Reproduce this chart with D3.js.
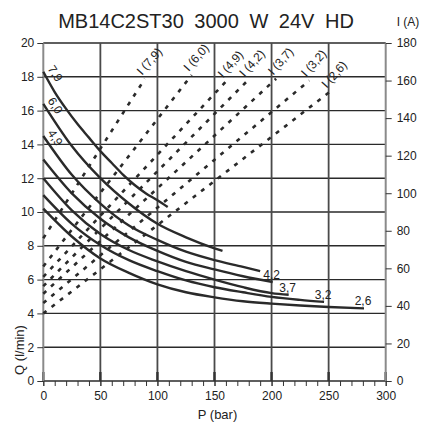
<!DOCTYPE html>
<html><head><meta charset="utf-8">
<script src="https://cdn.jsdelivr.net/npm/d3@7/dist/d3.min.js"></script>
<style>
body{margin:0;background:#fff}
svg{display:block;font-family:"Liberation Sans",Arial,sans-serif}
</style>
</head><body>
<svg id="chart" width="422" height="425"></svg>
<script>
// ---------- data ----------
const titleText = "MB14C2ST30  3000 W 24V HD";
const rightTitle = "I (A)";
const xTitle = "P (bar)";
const yTitle = "Q (l/min)";
const pressureTicks = [0, 50, 100, 150, 200, 250, 300];
const pressureMinor = [0,10,20,30,40,50,60,70,80,90,100,110,120,130,140,150,160,170,180,190,200,210,220,230,240,250,260,270,280,290,300];
const flowTicks = [0, 2, 4, 6, 8, 10, 12, 14, 16, 18, 20];
const currentTicks = [0, 20, 40, 60, 80, 100, 120, 140, 160, 180];

// Q (l/min) vs P (bar) curves, labelled by displacement
const curveNames = ["7,9", "6,0", "4,9", "4,2", "3,7", "3,2", "2,6"];
const flow79 = [[0,18.3],[10,17.1],[20,16.1],[30,15.2],[40,14.4],[50,13.6],[60,12.9],[70,12.2],[80,11.6],[90,11.1],[100,10.7],[109,10.3]];
const flow60 = [[0,16.4],[25,13.9],[50,12.0],[75,10.5],[100,9.3],[125,8.5],[150,7.85],[157,7.7]];
const flow49 = [[0,14.5],[25,12.2],[50,10.5],[75,9.2],[100,8.35],[125,7.65],[150,7.15],[175,6.75],[190,6.5]];
const flow42 = [[0,13.1],[25,11.1],[50,9.6],[75,8.5],[100,7.7],[125,7.05],[150,6.6],[175,6.2],[201,5.86]];
const flow37 = [[0,12.0],[25,10.1],[50,8.7],[75,7.75],[100,7.08],[125,6.5],[150,6.0],[175,5.55],[200,5.2],[215,5.1]];
const flow32 = [[0,11.0],[25,9.3],[50,8.05],[75,7.15],[100,6.5],[125,5.95],[150,5.55],[175,5.25],[200,4.98],[225,4.8],[246,4.68]];
const flow26 = [[0,10.2],[25,8.55],[50,7.25],[75,6.4],[100,5.72],[125,5.25],[150,4.95],[175,4.72],[200,4.58],[225,4.47],[250,4.38],[281,4.3]];

// current lines I (A) vs P (bar)
const currentNames = ["I (7,9)", "I (6,0)", "I (4,9)", "I (4,2)", "I (3,7)", "I (3,2)", "I (2,6)"];
const currentAtZero = [76, 61, 55.5, 50.5, 46.5, 41.5, 36];
const currentEndPressure = [89, 130, 160, 179, 204, 233, 251];
const currentEndValue = [161, 163, 159.5, 160, 161, 160, 154];

// ---------- chart ----------
const curves = [flow79, flow60, flow49, flow42, flow37, flow32, flow26];
const svg = d3.select("#chart");
const x = d3.scaleLinear().domain([0, 300]).range([43.3, 385.7]);
const y = d3.scaleLinear().domain([0, 20]).range([381, 43]);
const yI = d3.scaleLinear().domain([0, 180]).range([381, 43]);

// horizontal grid
svg.append("g").selectAll("line").data(flowTicks).join("line")
  .attr("x1", x(0)).attr("x2", x(300))
  .attr("y1", d => y(d)).attr("y2", d => y(d))
  .attr("stroke", "#2a2a2a").attr("stroke-width", 1.4);

// vertical grid
svg.append("g").selectAll("line").data(pressureTicks.filter(d => d > 0 && d < 300)).join("line")
  .attr("x1", d => x(d)).attr("x2", d => x(d))
  .attr("y1", y(0)).attr("y2", y(20))
  .attr("stroke", "#4a4a4a").attr("stroke-width", 1.8);

// inner major tick stubs at bottom
svg.append("g").selectAll("line").data(pressureTicks).join("line")
  .attr("x1", d => x(d)).attr("x2", d => x(d))
  .attr("y1", y(0)).attr("y2", y(0) - 9)
  .attr("stroke", "#333").attr("stroke-width", 2.4);

// left & right axis lines
svg.append("line").attr("x1", x(0)).attr("x2", x(0)).attr("y1", y(0)).attr("y2", y(20))
  .attr("stroke", "#8a8a8a").attr("stroke-width", 2);
svg.append("line").attr("x1", x(300)).attr("x2", x(300)).attr("y1", y(0)).attr("y2", y(20))
  .attr("stroke", "#8a8a8a").attr("stroke-width", 2);

function styleAxis(g) {
  g.select(".domain").remove();
  g.selectAll(".tick line").attr("stroke", "#333");
  g.selectAll(".tick text").attr("fill", "#222").attr("font-size", 12)
    .attr("font-family", '"Liberation Sans",Arial,sans-serif');
}

svg.append("g").attr("transform", `translate(${x(0)},0)`)
  .call(d3.axisLeft(y).tickValues(flowTicks).tickSize(6).tickPadding(3))
  .call(styleAxis);
svg.append("g").attr("transform", `translate(${x(300)},0)`)
  .call(d3.axisRight(yI).tickValues(currentTicks).tickSize(6).tickPadding(5))
  .call(styleAxis);
svg.append("g").attr("transform", `translate(0,${y(0)})`)
  .call(d3.axisBottom(x).tickValues(pressureMinor).tickSize(5).tickFormat(""))
  .call(styleAxis);
svg.append("g").attr("transform", `translate(0,${y(0)})`)
  .call(d3.axisBottom(x).tickValues(pressureTicks).tickSize(5).tickPadding(5))
  .call(styleAxis);

// dashed current lines
const curG = svg.append("g");
currentNames.forEach((name, i) => {
  const x0 = x(0), y0 = yI(currentAtZero[i]);
  const x1 = x(currentEndPressure[i]), y1 = yI(currentEndValue[i]);
  curG.append("line")
    .attr("x1", x0).attr("y1", y0).attr("x2", x1).attr("y2", y1)
    .attr("stroke", "#2a2a2a").attr("stroke-width", 2.6)
    .attr("stroke-dasharray", "4,6.5");
  curG.append("text")
    .attr("transform", `translate(${x1 - 3},${y1 - 3}) rotate(-48)`)
    .attr("font-size", 12).attr("fill", "#222")
    .text(name);
});

// solid curves
const line = d3.line().x(d => x(d[0])).y(d => y(d[1])).curve(d3.curveMonotoneX);
svg.append("g").selectAll("path").data(curves).join("path")
  .attr("d", line)
  .attr("fill", "none").attr("stroke", "#2a2a2a").attr("stroke-width", 2.4);

// curve labels: first three at left start, others at right end
curves.forEach((c, i) => {
  if (i < 3) {
    const p = c[0];
    svg.append("text")
      .attr("transform", `translate(${x(p[0]) + 4},${y(p[1]) - 3}) rotate(57)`)
      .attr("font-size", 12).attr("fill", "#222")
      .text(curveNames[i]);
  } else {
    const p = c[c.length - 1];
    svg.append("text")
      .attr("x", x(p[0]) - 1).attr("y", y(p[1]) - 3)
      .attr("text-anchor", "middle")
      .attr("font-size", 12).attr("fill", "#222")
      .text(curveNames[i]);
  }
});

// titles
svg.append("text").attr("x", 206).attr("y", 28).attr("text-anchor", "middle")
  .attr("font-size", 20).attr("fill", "#222").attr("word-spacing", 5).text(titleText);
svg.append("text").attr("x", 408).attr("y", 26).attr("text-anchor", "middle")
  .attr("font-size", 12).attr("fill", "#222").text(rightTitle);
svg.append("text").attr("x", x(150) + 3).attr("y", 419).attr("text-anchor", "middle")
  .attr("font-size", 13).attr("fill", "#222").text(xTitle);
svg.append("text").attr("transform", "translate(24,350) rotate(-90)").attr("text-anchor", "middle")
  .attr("font-size", 13).attr("fill", "#222").text(yTitle);
</script>
</body></html>
